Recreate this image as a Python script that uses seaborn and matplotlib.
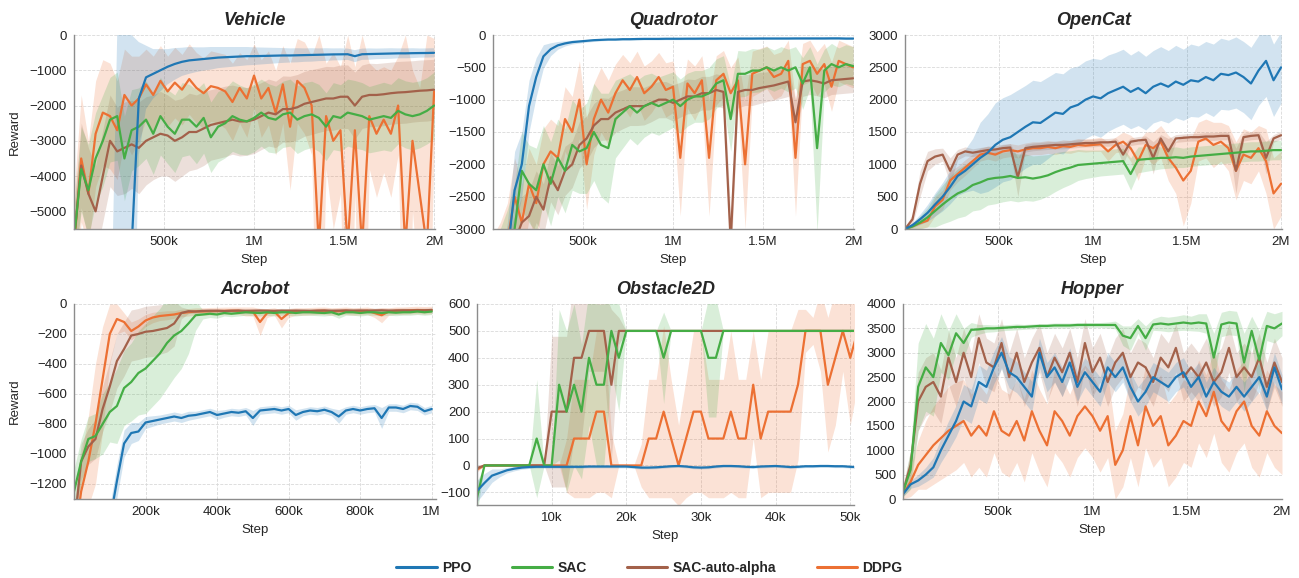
import numpy as np
import pandas as pd
import matplotlib
matplotlib.use("Agg")
import matplotlib.pyplot as plt
from matplotlib.lines import Line2D
import seaborn as sns

# ---------------- data ----------------
ALGOS = ["PPO", "SAC", "SAC-auto-alpha", "DDPG"]
COLORS = {"PPO": "#1f77b4", "SAC": "#45ad45", "SAC-auto-alpha": "#a3614a", "DDPG": "#ec7033"}
DRAW_ORDER = ["DDPG", "SAC-auto-alpha", "SAC", "PPO"]

steps_2m = np.arange(51) * 40_000
steps_1m = np.arange(51) * 20_000
steps_50k = np.arange(52) * 1_000

# Vehicle
veh_ppo = [-12000, -12000, -12000, -12000, -12000, -12000, -11000, -9000, -6000, -1800,
           -1200, -1100, -1000, -900, -820, -760, -720, -700, -680, -660,
           -640, -630, -620, -610, -600, -600, -595, -590, -585, -580,
           -580, -575, -570, -565, -560, -555, -550, -548, -545, -600,
           -545, -540, -535, -530, -525, -520, -520, -515, -512, -510, -505]
veh_ppo_sd = [0, 0, 0, 0, 0, 2500, 11000, 9000, 6000, 1600,
              900, 700, 600, 500, 450, 400, 380, 350, 330, 320,
              300, 290, 280, 270, 260, 250, 240, 230, 220, 210,
              200, 200, 190, 190, 180, 180, 170, 170, 160, 170,
              160, 160, 150, 150, 150, 140, 140, 140, 130, 130, 130]
veh_sac = [-5800, -3800, -4400, -3500, -3000, -2400, -2300, -3500, -2700, -2600,
           -2400, -2800, -2300, -2600, -2800, -2400, -2400, -2600, -2350, -2900,
           -2600, -2500, -2300, -2400, -2450, -2350, -2200, -2350, -2400, -2250,
           -2200, -2400, -2300, -2250, -2350, -2600, -2300, -2350, -2200, -2250,
           -2300, -2400, -2350, -2300, -2350, -2150, -2250, -2300, -2250, -2150, -2000]
veh_sac_sd = [800, 1200, 1300, 1300, 1300, 1200, 1250, 1200, 1150, 1100,
              1100, 1150, 1100, 1050, 1100, 1050, 1000, 1050, 1000, 1000,
              1000, 980, 1000, 980, 950, 960, 950, 970, 950, 940,
              950, 960, 950, 940, 950, 960, 950, 940, 950, 960,
              950, 940, 950, 960, 950, 940, 950, 960, 950, 940, 950]
veh_sac_auto = [-5800, -3700, -4500, -5000, -4000, -3000, -3300, -3200, -3100, -3200,
                -3000, -2900, -2800, -2850, -3000, -2900, -2750, -2750, -2650, -2550,
                -2500, -2450, -2400, -2450, -2450, -2400, -2300, -2200, -2250, -2100,
                -2100, -2050, -1950, -1900, -1850, -1800, -1800, -1750, -1750, -2000,
                -1750, -1700, -1700, -1680, -1650, -1630, -1620, -1600, -1580, -1570, -1550]
veh_sac_auto_sd = [900, 1200, 1300, 1300, 1300, 1300, 1250, 1300, 1250, 1300,
                   1250, 1200, 1200, 1150, 1150, 1100, 1100, 1050, 1050, 1000,
                   1000, 1000, 980, 980, 960, 960, 950, 950, 940, 940,
                   930, 930, 920, 920, 910, 910, 900, 900, 900, 950,
                   900, 900, 890, 890, 880, 880, 880, 870, 870, 870, 860]
veh_ddpg = [-6000, -3500, -4500, -2800, -2200, -2300, -2700, -1700, -2000, -1800,
            -1400, -1700, -1300, -1600, -1350, -1550, -1250, -1500, -1650, -1450,
            -1500, -1600, -1900, -1500, -1800, -1150, -1800, -1500, -2200, -1400,
            -2600, -1300, -1500, -2000, -6000, -2300, -3000, -2700, -6000, -2700,
            -6000, -2300, -2800, -2400, -2800, -2000, -6000, -3000, -4500, -6000, -1600]
veh_ddpg_sd = [1500, 1800, 1500, 1500, 1500, 1500, 1400, 1300, 1400, 1200,
               1000, 1100, 1000, 1000, 1000, 1000, 1000, 1000, 1000, 1000,
               1000, 1050, 1100, 1000, 1100, 900, 1100, 1050, 1200, 1100,
               1800, 1200, 1300, 1400, 6000, 1500, 2500, 1800, 6000, 1800,
               6000, 1500, 1800, 1500, 1800, 1400, 6000, 2000, 3000, 6000, 1500]

# Quadrotor
quad_ppo = [-4500, -4000, -3400, -2400, -2000, -1100, -650, -330, -220, -160,
            -130, -110, -100, -90, -80, -75, -70, -70, -65, -65,
            -62, -60, -60, -60, -58, -58, -58, -57, -57, -56,
            -56, -56, -55, -55, -55, -55, -55, -54, -54, -54,
            -54, -54, -53, -53, -53, -53, -53, -52, -52, -55, -55]
quad_ppo_sd = [300, 400, 500, 600, 500, 400, 300, 180, 100, 60,
               40, 30, 25, 20, 20, 15, 15, 15, 15, 15,
               15, 15, 15, 15, 15, 15, 15, 15, 15, 15,
               15, 15, 15, 15, 15, 15, 15, 15, 15, 15,
               15, 15, 15, 15, 15, 15, 15, 15, 15, 15, 15]
quad_sac = [-3800, -3600, -3400, -3000, -2100, -2300, -2400, -2000, -2300, -1900,
            -2100, -1700, -1800, -1750, -1500, -1700, -1750, -1300, -1200, -1100,
            -1200, -1100, -1050, -1100, -1050, -1000, -1100, -1000, -950, -950,
            -900, -750, -700, -1300, -600, -600, -550, -550, -500, -550,
            -500, -550, -500, -750, -500, -1750, -550, -450, -500, -450, -480]
quad_sac_sd = [500, 600, 700, 700, 600, 600, 650, 600, 650, 600,
               650, 700, 650, 700, 750, 800, 850, 600, 550, 500,
               500, 480, 460, 450, 440, 430, 420, 410, 400, 400,
               400, 380, 380, 500, 360, 350, 340, 330, 320, 320,
               320, 330, 320, 400, 320, 1300, 330, 320, 300, 300, 300]
quad_sac_auto = [-3900, -3700, -3500, -3200, -2900, -2800, -2500, -2700, -2200, -2400,
                 -2100, -2000, -1700, -1600, -1400, -1300, -1300, -1200, -1150, -1100,
                 -1100, -1100, -1050, -1000, -1000, -1050, -1000, -950, -950, -900,
                 -900, -850, -880, -3200, -880, -850, -850, -820, -800, -780,
                 -750, -720, -1350, -720, -700, -720, -750, -700, -690, -680, -670]
quad_sac_auto_sd = [400, 400, 400, 400, 400, 400, 400, 400, 380, 380,
                    380, 360, 360, 350, 340, 330, 320, 310, 300, 300,
                    300, 290, 290, 280, 280, 280, 270, 270, 260, 260,
                    260, 250, 250, 400, 250, 240, 240, 240, 230, 230,
                    230, 230, 350, 230, 220, 220, 220, 220, 220, 220, 220]
quad_ddpg = [-3600, -3400, -3200, -2500, -2900, -2300, -2600, -2000, -1800, -1900,
             -1300, -1500, -1000, -2000, -1300, -1000, -1200, -900, -700, -850,
             -650, -900, -800, -650, -850, -800, -1900, -750, -900, -700,
             -1900, -700, -600, -900, -700, -2000, -600, -550, -500, -650,
             -600, -400, -1900, -450, -400, -600, -450, -800, -400, -450, -500]
quad_ddpg_sd = [500, 500, 600, 600, 600, 550, 600, 550, 500, 500,
                500, 550, 600, 700, 550, 500, 500, 450, 400, 420,
                400, 420, 400, 380, 420, 400, 900, 380, 420, 380,
                900, 380, 360, 400, 360, 1000, 350, 340, 330, 350,
                340, 320, 900, 320, 320, 340, 320, 380, 320, 320, 320]

# OpenCat
cat_ppo = [0, 60, 150, 250, 380, 500, 650, 820, 900, 1000,
           1100, 1180, 1300, 1380, 1420, 1500, 1580, 1650, 1640, 1720,
           1800, 1780, 1880, 1920, 2000, 2050, 2020, 2100, 2150, 2200,
           2120, 2180, 2100, 2200, 2250, 2200, 2280, 2230, 2300, 2280,
           2350, 2300, 2400, 2380, 2420, 2350, 2250, 2450, 2600, 2300, 2500]
cat_ppo_sd = [20, 40, 80, 130, 180, 220, 260, 300, 330, 400,
              550, 600, 650, 650, 660, 650, 640, 650, 640, 630,
              620, 620, 610, 600, 600, 590, 600, 590, 580, 580,
              570, 580, 570, 560, 570, 560, 560, 550, 560, 550,
              550, 560, 550, 540, 550, 550, 560, 540, 550, 560, 550]
cat_sac = [0, 40, 100, 180, 280, 380, 470, 550, 600, 680,
           720, 770, 790, 800, 820, 790, 800, 780, 800, 830,
           880, 920, 950, 990, 1000, 1010, 1020, 1030, 1040, 1050,
           850, 1070, 1080, 1090, 1100, 1100, 1110, 1100, 1120, 1130,
           1140, 1150, 1160, 1170, 1180, 1190, 1200, 1200, 1210, 1220, 1220]
cat_sac_sd = [20, 50, 100, 150, 250, 300, 350, 380, 400, 400,
              420, 400, 400, 380, 380, 370, 360, 350, 340, 320,
              300, 280, 260, 240, 220, 210, 200, 200, 200, 200,
              250, 200, 190, 180, 170, 160, 160, 150, 150, 150,
              150, 150, 150, 150, 150, 150, 150, 150, 150, 150, 150]
cat_sac_auto = [0, 150, 700, 1050, 1120, 1150, 900, 1150, 1200, 1180,
                1200, 1220, 1230, 1250, 1260, 800, 1250, 1270, 1280, 1290,
                1300, 1300, 1310, 1320, 1330, 1330, 1340, 1340, 1350, 1150,
                1350, 1370, 1380, 1100, 1400, 1200, 1400, 1410, 1420, 1420,
                1430, 1430, 1440, 1440, 900, 1420, 1440, 1450, 1100, 1400, 1450]
cat_sac_auto_sd = [30, 80, 200, 150, 120, 100, 200, 80, 70, 60,
                   60, 60, 60, 60, 60, 300, 60, 60, 60, 60,
                   60, 60, 60, 60, 60, 60, 60, 60, 60, 150,
                   60, 60, 60, 250, 60, 200, 60, 60, 60, 60,
                   60, 60, 60, 60, 350, 60, 60, 60, 250, 60, 60]
cat_ddpg = [0, 40, 90, 130, 350, 450, 750, 850, 950, 1050,
            1150, 1180, 1150, 1200, 1220, 1200, 1230, 1250, 1250, 1270,
            1250, 1280, 1270, 1300, 1290, 1300, 1310, 1200, 1300, 1350,
            1250, 1050, 1300, 1250, 1350, 1100, 950, 750, 900, 1350,
            1400, 1300, 1350, 1250, 900, 1150, 1100, 1250, 1050, 550, 700]
cat_ddpg_sd = [30, 50, 80, 100, 150, 150, 150, 120, 120, 110,
               100, 100, 100, 100, 100, 100, 100, 100, 100, 100,
               100, 100, 100, 100, 100, 100, 110, 150, 120, 150,
               200, 300, 200, 250, 250, 350, 400, 700, 500, 300,
               300, 350, 300, 350, 450, 400, 400, 350, 500, 550, 500]

# Acrobot
acro_ppo = [-2500, -2300, -2100, -1900, -1750, -1450, -1180, -930, -860, -850,
            -790, -780, -770, -760, -750, -760, -745, -740, -730, -720,
            -740, -730, -720, -725, -715, -760, -710, -705, -700, -710,
            -700, -740, -720, -710, -715, -705, -720, -750, -710, -700,
            -710, -700, -695, -760, -690, -690, -700, -680, -685, -715, -700]
acro_ppo_sd = [100, 100, 100, 100, 100, 100, 110, 90, 70, 60,
               40, 35, 30, 30, 30, 30, 30, 25, 25, 25,
               30, 25, 25, 25, 25, 50, 25, 25, 25, 25,
               25, 35, 25, 25, 25, 25, 25, 45, 25, 25,
               25, 25, 25, 70, 25, 25, 25, 25, 25, 25, 25]
acro_sac = [-1250, -1050, -900, -880, -800, -720, -680, -560, -520, -460,
            -430, -380, -330, -260, -210, -180, -130, -75, -70, -65,
            -70, -60, -65, -60, -55, -58, -60, -55, -60, -55,
            -55, -60, -55, -55, -58, -60, -55, -70, -55, -55,
            -60, -55, -55, -60, -55, -58, -55, -55, -50, -55, -50]
acro_sac_sd = [150, 150, 150, 150, 200, 200, 250, 250, 260, 280,
               300, 300, 300, 300, 280, 250, 200, 100, 30, 25,
               25, 20, 20, 20, 20, 20, 20, 20, 20, 20,
               20, 20, 20, 20, 20, 20, 20, 25, 20, 20,
               20, 20, 20, 20, 20, 20, 20, 20, 20, 20, 20]
acro_sac_auto = [-1500, -1050, -950, -900, -700, -550, -380, -300, -210, -200,
                 -185, -180, -170, -160, -130, -60, -48, -50, -46, -45,
                 -45, -47, -45, -44, -46, -45, -44, -45, -46, -44,
                 -45, -44, -45, -46, -44, -43, -45, -44, -43, -44,
                 -43, -44, -43, -42, -44, -43, -42, -43, -42, -42, -40]
acro_sac_auto_sd = [150, 120, 120, 130, 150, 170, 180, 180, 170, 170,
                    170, 170, 165, 160, 150, 40, 15, 15, 15, 15,
                    15, 15, 15, 15, 15, 15, 15, 15, 15, 15,
                    15, 15, 15, 15, 15, 15, 15, 15, 15, 15,
                    15, 15, 15, 15, 15, 15, 15, 15, 15, 15, 15]
acro_ddpg = [-1600, -1250, -1050, -800, -500, -200, -100, -120, -180, -150,
             -110, -90, -80, -75, -70, -60, -55, -50, -50, -48,
             -47, -46, -45, -45, -50, -50, -120, -60, -50, -100,
             -60, -50, -50, -48, -46, -45, -50, -48, -45, -50,
             -48, -45, -60, -75, -50, -45, -45, -42, -40, -42, -40]
acro_ddpg_sd = [200, 250, 300, 400, 350, 200, 100, 60, 60, 50,
                40, 35, 30, 30, 25, 25, 25, 25, 25, 25,
                25, 25, 25, 25, 30, 30, 90, 30, 25, 60,
                30, 25, 25, 25, 25, 25, 25, 25, 25, 25,
                25, 25, 30, 50, 25, 25, 25, 25, 25, 25, 25]

# Obstacle2D
obs_ppo = [-95, -65, -38, -28, -18, -12, -8, -6, -5, -5,
           -5, -5, -5, -5, -5, -4, -4, -4, -4, -4,
           -4, -6, -8, -8, -7, -5, -3, -2, -4, -7,
           -8, -7, -4, -2, -2, -3, -5, -6, -4, -3,
           -2, -4, -6, -5, -3, -3, -2, -2, -3, -3, -5, -6]
obs_ppo_sd = [40, 35, 25, 15, 10, 8, 6, 5, 5, 5,
              5, 5, 5, 5, 5, 5, 5, 5, 5, 5,
              5, 5, 5, 5, 5, 5, 5, 5, 5, 5,
              5, 5, 5, 5, 5, 5, 5, 5, 5, 5,
              5, 5, 5, 5, 5, 5, 5, 5, 5, 5, 5, 5]
obs_sac = [-120, 0, 0, 0, 0, 0, 0, 0, 100, 0,
           0, 300, 200, 300, 200, 400, 300, 300, 500, 400,
           500, 500, 500, 500, 500, 400, 500, 500, 500, 500,
           500, 400, 400, 500, 500, 500, 500, 500, 500, 500,
           500, 500, 500, 500, 500, 500, 500, 500, 500, 500, 500, 500]
obs_sac_sd = [60, 0, 0, 0, 0, 0, 0, 0, 220, 0,
              0, 280, 300, 300, 250, 250, 300, 300, 150, 200,
              0, 0, 0, 0, 0, 170, 0, 0, 0, 0,
              0, 220, 220, 0, 0, 0, 0, 0, 0, 0,
              0, 0, 0, 0, 0, 0, 0, 0, 0, 0, 0, 0]
obs_sac_auto = [-10, 0, 0, 0, 0, 0, 0, 0, 0, 0,
                200, 200, 200, 400, 400, 500, 500, 500, 300, 500,
                500, 500, 500, 500, 500, 500, 500, 500, 500, 500,
                500, 500, 500, 500, 500, 500, 500, 500, 500, 500,
                500, 500, 500, 500, 500, 500, 500, 500, 500, 500, 500, 500]
obs_sac_auto_sd = [10, 0, 0, 0, 0, 0, 0, 0, 0, 0,
                   280, 280, 280, 300, 300, 150, 150, 150, 280, 50,
                   0, 0, 0, 0, 0, 0, 0, 0, 0, 0,
                   0, 0, 0, 0, 0, 0, 0, 0, 0, 0,
                   0, 0, 0, 0, 0, 0, 0, 0, 0, 0, 0, 0]
obs_ddpg = [-15, 0, 0, 0, 0, 0, 0, 0, 0, 0,
            0, 0, 0, 100, 100, 100, 200, 200, 0, 0,
            0, 0, 0, 100, 100, 200, 100, 0, 100, 200,
            200, 100, 100, 100, 200, 100, 100, 300, 100, 200,
            200, 200, 200, 300, 500, 500, 500, 300, 400, 500, 400, 500]
obs_ddpg_sd = [10, 0, 0, 0, 0, 0, 0, 0, 0, 0,
               0, 0, 100, 220, 220, 220, 300, 300, 120, 0,
               0, 0, 80, 220, 220, 320, 220, 150, 220, 300,
               300, 220, 220, 220, 300, 220, 220, 200, 220, 300,
               300, 300, 300, 280, 80, 50, 150, 250, 250, 150, 250, 200]

# Hopper
hop_ppo = [100, 300, 380, 500, 650, 1000, 1300, 1600, 2000, 1900,
           2400, 2300, 2700, 3000, 2600, 2500, 2300, 2100, 3000, 2500,
           2700, 2400, 2800, 2300, 2600, 2400, 2200, 2700, 2500, 2700,
           2300, 2000, 2200, 2500, 2400, 2300, 2500, 2600, 2300, 2500,
           2100, 2400, 2200, 2100, 2300, 2100, 2300, 2500, 2100, 2700, 2250]
hop_ppo_sd = [50, 80, 120, 150, 200, 250, 300, 320, 350, 350,
              350, 340, 330, 330, 320, 320, 310, 310, 300, 300,
              300, 300, 300, 300, 300, 300, 300, 300, 300, 300,
              300, 300, 300, 300, 300, 300, 300, 300, 300, 300,
              300, 300, 300, 300, 300, 300, 300, 300, 300, 300, 300]
hop_sac = [150, 600, 2300, 2700, 2500, 3200, 2950, 3400, 3200, 3470,
           3480, 3500, 3500, 3510, 3520, 3530, 3530, 3540, 3550, 3550,
           3560, 3560, 3560, 3570, 3570, 3570, 3570, 3570, 3570, 3350,
           3300, 3550, 3300, 3580, 3600, 3580, 3600, 3620, 3600, 3620,
           3600, 2900, 3580, 3620, 3600, 2800, 3450, 2850, 3550, 3500, 3600]
hop_sac_sd = [100, 400, 900, 900, 800, 600, 500, 400, 300, 150,
              100, 80, 70, 60, 60, 60, 50, 50, 50, 50,
              50, 50, 50, 50, 50, 50, 50, 60, 80, 200,
              250, 150, 250, 120, 150, 150, 150, 160, 150, 180,
              200, 500, 250, 250, 250, 600, 300, 600, 300, 300, 250]
hop_sac_auto = [150, 700, 2000, 2300, 2400, 2100, 2900, 2400, 3000, 2500,
                3300, 2800, 2700, 3200, 2500, 3000, 2400, 2800, 3100, 2500,
                2900, 2600, 3000, 2400, 3200, 2600, 2900, 2400, 2800, 3000,
                2500, 2800, 2700, 2400, 2900, 2700, 3100, 2500, 2700, 2500,
                2800, 2400, 2600, 3100, 2500, 2700, 2500, 2900, 2300, 2800, 2400]
hop_sac_auto_sd = [100, 300, 600, 600, 600, 550, 550, 500, 500, 500,
                   500, 500, 500, 500, 500, 500, 500, 500, 500, 500,
                   500, 500, 500, 500, 500, 500, 500, 500, 500, 500,
                   500, 500, 500, 500, 500, 500, 500, 500, 500, 500,
                   500, 500, 500, 500, 500, 500, 500, 500, 500, 500, 500]
hop_ddpg = [100, 350, 700, 900, 1100, 1250, 1400, 1500, 1600, 1300,
            1500, 1300, 1800, 1400, 1300, 1600, 1200, 1800, 1400, 1100,
            1800, 1600, 1300, 1700, 1900, 1700, 1400, 1700, 700, 1000,
            1700, 1100, 1900, 1500, 1700, 1100, 1300, 1600, 1500, 2000,
            1700, 2200, 1600, 1400, 1800, 2000, 1500, 1300, 1800, 1500, 1350]
hop_ddpg_sd = [100, 300, 500, 700, 800, 850, 900, 900, 850, 850,
               850, 850, 850, 850, 850, 850, 850, 850, 850, 850,
               850, 850, 850, 850, 850, 850, 850, 850, 700, 750,
               850, 850, 850, 850, 850, 850, 850, 850, 850, 850,
               850, 850, 850, 850, 850, 850, 850, 850, 850, 850, 850]

# tick labels
ticks_2m = [500_000, 1_000_000, 1_500_000, 2_000_000]
ticklabels_2m = ["500k", "1M", "1.5M", "2M"]
ticks_1m = [200_000, 400_000, 600_000, 800_000, 1_000_000]
ticklabels_1m = ["200k", "400k", "600k", "800k", "1M"]
ticks_50k = [10_000, 20_000, 30_000, 40_000, 50_000]
ticklabels_50k = ["10k", "20k", "30k", "40k", "50k"]

# ---------------- styling ----------------
sns.set_theme(style="white")
plt.rcParams["font.family"] = ["Liberation Sans", "DejaVu Sans"]
plt.rcParams["axes.unicode_minus"] = True

fig = plt.figure(figsize=(12.99, 5.78), dpi=100)
W, H = 1299, 578


def rect(l, r, t, b):
    return [l / W, (H - b) / H, (r - l) / W, (b - t) / H]


panels = [
    dict(title="Vehicle", rect=rect(74, 435, 35, 229), steps=steps_2m,
         data={"PPO": (veh_ppo, veh_ppo_sd), "SAC": (veh_sac, veh_sac_sd),
               "SAC-auto-alpha": (veh_sac_auto, veh_sac_auto_sd), "DDPG": (veh_ddpg, veh_ddpg_sd)},
         xlim=(0, 2.005e6), ylim=(-5500, 0), yticks=[-5000, -4000, -3000, -2000, -1000, 0],
         xt=(ticks_2m, ticklabels_2m), ylabel=True),
    dict(title="Quadrotor", rect=rect(493, 854, 35, 229), steps=steps_2m,
         data={"PPO": (quad_ppo, quad_ppo_sd), "SAC": (quad_sac, quad_sac_sd),
               "SAC-auto-alpha": (quad_sac_auto, quad_sac_auto_sd), "DDPG": (quad_ddpg, quad_ddpg_sd)},
         xlim=(0, 2.005e6), ylim=(-3000, 0), yticks=[-3000, -2500, -2000, -1500, -1000, -500, 0],
         xt=(ticks_2m, ticklabels_2m), ylabel=False),
    dict(title="OpenCat", rect=rect(905, 1282, 35, 229), steps=steps_2m,
         data={"PPO": (cat_ppo, cat_ppo_sd), "SAC": (cat_sac, cat_sac_sd),
               "SAC-auto-alpha": (cat_sac_auto, cat_sac_auto_sd), "DDPG": (cat_ddpg, cat_ddpg_sd)},
         xlim=(0, 2.005e6), ylim=(0, 3000), yticks=[0, 500, 1000, 1500, 2000, 2500, 3000],
         xt=(ticks_2m, ticklabels_2m), ylabel=False),
    dict(title="Acrobot", rect=rect(74, 436, 304, 499), steps=steps_1m,
         data={"PPO": (acro_ppo, acro_ppo_sd), "SAC": (acro_sac, acro_sac_sd),
               "SAC-auto-alpha": (acro_sac_auto, acro_sac_auto_sd), "DDPG": (acro_ddpg, acro_ddpg_sd)},
         xlim=(0, 1.012e6), ylim=(-1300, 0), yticks=[-1200, -1000, -800, -600, -400, -200, 0],
         xt=(ticks_1m, ticklabels_1m), ylabel=True),
    dict(title="Obstacle2D", rect=rect(477, 854, 304, 505), steps=steps_50k,
         data={"PPO": (obs_ppo, obs_ppo_sd), "SAC": (obs_sac, obs_sac_sd),
               "SAC-auto-alpha": (obs_sac_auto, obs_sac_auto_sd), "DDPG": (obs_ddpg, obs_ddpg_sd)},
         xlim=(0, 50.5e3), ylim=(-147, 600), yticks=[-100, 0, 100, 200, 300, 400, 500, 600],
         xt=(ticks_50k, ticklabels_50k), ylabel=False),
    dict(title="Hopper", rect=rect(903, 1282, 304, 499), steps=steps_2m,
         data={"PPO": (hop_ppo, hop_ppo_sd), "SAC": (hop_sac, hop_sac_sd),
               "SAC-auto-alpha": (hop_sac_auto, hop_sac_auto_sd), "DDPG": (hop_ddpg, hop_ddpg_sd)},
         xlim=(0, 2.0e6), ylim=(0, 4000), yticks=[0, 500, 1000, 1500, 2000, 2500, 3000, 3500, 4000],
         xt=(ticks_2m, ticklabels_2m), ylabel=False),
]

for p in panels:
    ax = fig.add_axes(p["rect"])
    steps = p["steps"]
    for name in DRAW_ORDER:
        mean, sd = p["data"][name]
        mean = np.asarray(mean, dtype=float)
        sd = np.asarray(sd, dtype=float)
        ax.fill_between(steps, mean - sd, mean + sd, color=COLORS[name], alpha=0.2, linewidth=0)
        df = pd.DataFrame({"Step": steps, "Reward": mean})
        sns.lineplot(data=df, x="Step", y="Reward", ax=ax, color=COLORS[name],
                     linewidth=1.6, errorbar=None, legend=False)
    ax.set_xlim(*p["xlim"])
    ax.set_ylim(*p["ylim"])
    ax.set_yticks(p["yticks"])
    ax.set_xticks(p["xt"][0])
    ax.set_xticklabels(p["xt"][1])
    ax.grid(True, linestyle="--", linewidth=0.6, color="#d9d9d9")
    ax.set_axisbelow(True)
    for s in ["top", "right"]:
        ax.spines[s].set_visible(False)
    for s in ["left", "bottom"]:
        ax.spines[s].set_color("#8c8c8c")
        ax.spines[s].set_linewidth(1.0)
    ax.tick_params(axis="both", length=0, pad=5, labelsize=9.5, colors="#222222")
    ax.set_title(p["title"], fontsize=13, fontweight="bold", fontstyle="italic", pad=7)
    ax.set_xlabel("Step", fontsize=9.5, labelpad=4)
    if p["ylabel"]:
        ax.set_ylabel("Reward", fontsize=9.5, labelpad=6)
    else:
        ax.set_ylabel("")

handles = [Line2D([0], [0], color=COLORS[a], linewidth=2.2) for a in ALGOS]
fig.legend(handles, ALGOS, loc="center", bbox_to_anchor=(0.5, 1 - 568 / H), ncol=4,
           frameon=False, prop={"weight": "bold", "size": 10},
           handlelength=2.9, handletextpad=0.4, columnspacing=2.9)

fig.savefig("out.png", dpi=100)
